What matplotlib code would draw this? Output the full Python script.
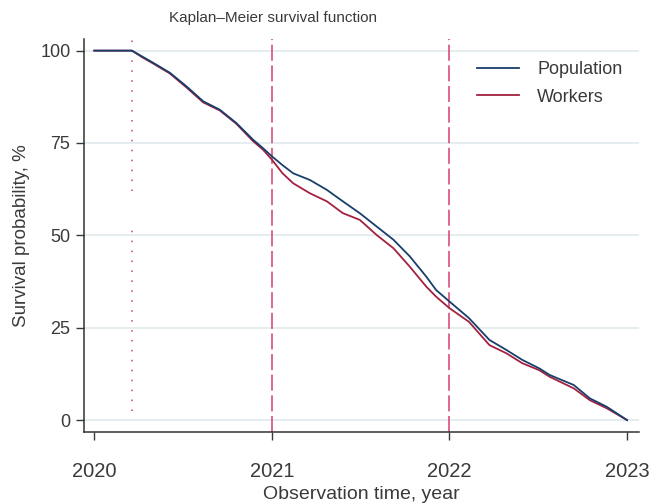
import matplotlib
matplotlib.use("Agg")
import matplotlib.pyplot as plt

plt.rcParams['font.family'] = ['Liberation Sans', 'DejaVu Sans']

# survival curves (time in years, survival in %)
t_pop = [2020.0, 2020.212, 2020.27, 2020.332, 2020.426, 2020.52, 2020.613, 2020.707,
         2020.80, 2020.894, 2020.95, 2021.0, 2021.06, 2021.12, 2021.214, 2021.31,
         2021.40, 2021.495, 2021.59, 2021.685, 2021.777, 2021.87, 2021.925, 2022.0,
         2022.11, 2022.225, 2022.32, 2022.41, 2022.506, 2022.565, 2022.70, 2022.79,
         2022.886, 2023.0]
s_pop = [100, 100, 98.4, 96.7, 94.0, 90.3, 86.3, 84.0, 80.4, 75.9, 73.6, 71.4, 69.0,
         66.8, 65.0, 62.3, 59.2, 56.0, 52.4, 48.8, 44.3, 38.8, 35.2, 32.1, 27.6, 21.7,
         19.0, 16.3, 14.0, 12.2, 9.5, 5.9, 3.6, 0]
t_wrk = t_pop
s_wrk = [100, 100, 98.2, 96.5, 93.8, 90.0, 86.0, 83.8, 80.2, 75.5, 73.2, 70.5, 66.8,
         64.1, 61.4, 59.2, 56.0, 54.2, 50.1, 46.5, 41.5, 36.1, 33.4, 30.3, 26.6, 20.3,
         18.1, 15.4, 13.5, 11.7, 8.6, 5.4, 3.2, 0]

x_ticks = [2020, 2021, 2022, 2023]
y_ticks = [0, 25, 50, 75, 100]
year_lines = [2021, 2022]
start_time = 2020.212

blue = '#183f6c'
red = '#a3213f'
pink = '#d6406e'
txt = '#3a3a3a'

fig = plt.figure(figsize=(6.64, 5.04), dpi=100)
ax = fig.add_axes([0.127, 0.143, 0.835, 0.78])

for y in y_ticks:
    ax.axhline(y, color='#e2eaee', lw=1.2, zorder=0)

# start-of-observation marker (dotted), drawn in two parts as in the reference
ax.vlines(start_time, 62, 103, color=pink, lw=1.1, linestyle=(0, (1, 5.5)))
ax.vlines(start_time, 2.5, 53, color=pink, lw=1.1, linestyle=(0, (1, 5.5)))
for x in year_lines:
    ax.axvline(x, color=pink, lw=1.1, linestyle=(0, (10.5, 3)), zorder=1)

ax.plot(t_pop, s_pop, color=blue, lw=1.3, label='Population', zorder=3)
ax.plot(t_wrk, s_wrk, color=red, lw=1.3, label='Workers', zorder=2)

ax.set_xlim(2019.944, 2023.066)
ax.set_ylim(-3.2, 103.2)
ax.set_xticks(x_ticks)
ax.set_yticks(y_ticks)
ax.tick_params(axis='x', labelsize=14.5, colors=txt, length=6, width=1, pad=16)
ax.tick_params(axis='y', labelsize=13, colors=txt, length=6, width=1, pad=4)
for s in ['top', 'right']:
    ax.spines[s].set_visible(False)
for s in ['left', 'bottom']:
    ax.spines[s].set_color('#333333')
    ax.spines[s].set_linewidth(1.1)

ax.set_xlabel('Observation time, year', fontsize=14, color=txt, labelpad=3)
ax.set_ylabel('Survival probability, %', fontsize=13.5, color=txt, labelpad=7)
fig.text(0.411, 0.964, 'Kaplan\u2013Meier survival function', ha='center', va='center',
         fontsize=11, color=txt)

leg = ax.legend(loc='upper right', frameon=False, fontsize=13, handlelength=2.35,
                handletextpad=1.0, labelspacing=0.6, bbox_to_anchor=(1.0, 0.985))
for t in leg.get_texts():
    t.set_color(txt)

fig.savefig('out.png', dpi=100)
